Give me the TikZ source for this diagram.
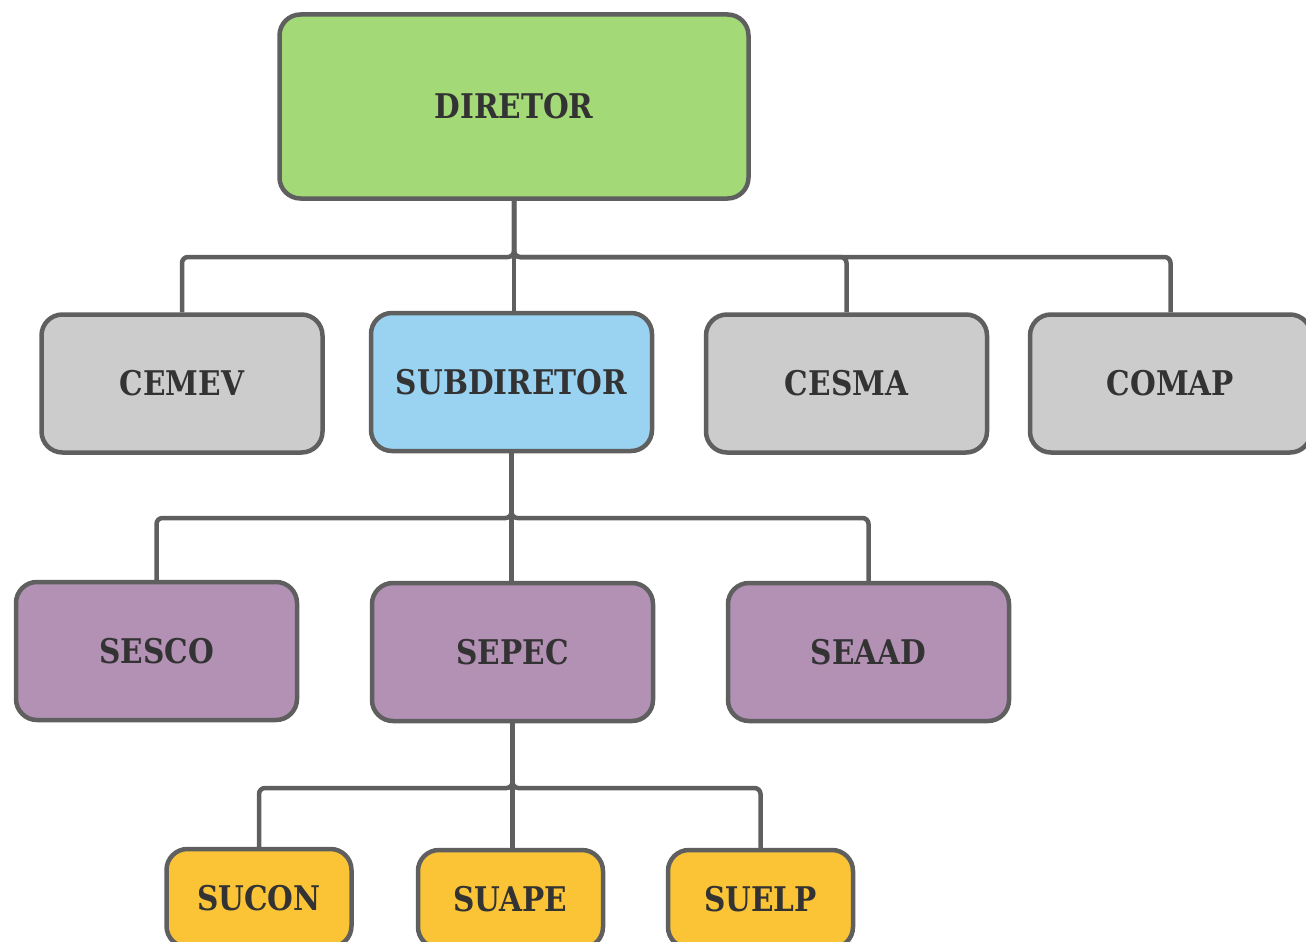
\documentclass[tikz,border=0pt]{standalone}
\usepackage{fontspec}
\setmainfont{DejaVu Serif}[FakeStretch=0.87]
\definecolor{edgegray}{HTML}{5F5F5F}
\definecolor{txtgray}{HTML}{333333}
\definecolor{cgreen}{HTML}{A3D977}
\definecolor{cblue}{HTML}{9AD2F2}
\definecolor{cgray}{HTML}{CCCCCC}
\definecolor{cpurple}{HTML}{B391B5}
\definecolor{cyellow}{HTML}{FBC437}
\begin{document}
\begin{tikzpicture}[x=1pt,y=-1pt,
  box/.style={draw=edgegray, line width=4.5pt, rounded corners=21pt, inner sep=0pt,
    font=\fontsize{34}{40}\selectfont\bfseries, text=txtgray, align=center},
  bigbox/.style={box, minimum width=281pt, minimum height=138pt},
  smallbox/.style={box, minimum width=185pt, minimum height=98pt},
  conn/.style={draw=edgegray, line width=4.5pt, rounded corners=6pt}]
\useasboundingbox (0,0) rectangle (1306,942);
\clip (0,0) rectangle (1306,942);
\node[box, fill=cgreen, minimum width=469pt, minimum height=184pt] (dir) at (514,106.5) {DIRETOR};
\node[bigbox, fill=cgray] (cemev) at (182,383.5) {CEMEV};
\node[bigbox, fill=cblue] (sub) at (511.5,382) {SUBDIRETOR};
\node[bigbox, fill=cgray] (cesma) at (846.5,383.5) {CESMA};
\node[bigbox, fill=cgray] (comap) at (1170.5,383.5) {COMAP};
\node[bigbox, fill=cpurple] (sesco) at (156.5,651) {SESCO};
\node[bigbox, fill=cpurple] (sepec) at (512.5,652) {SEPEC};
\node[bigbox, fill=cpurple] (seaad) at (868.5,652) {SEAAD};
\node[smallbox, fill=cyellow] (sucon) at (259,898) {SUCON};
\node[smallbox, fill=cyellow] (suape) at (510.5,899) {SUAPE};
\node[smallbox, fill=cyellow] (suelp) at (760.5,899) {SUELP};
\coordinate (b1) at (514,257);
\coordinate (b2) at (511,518);
\coordinate (b3) at (513,788);
\draw[conn] (dir.south) -- (dir.south |- b1) -| (cemev.north);
\draw[conn] (dir.south) -- (dir.south |- sub.north);
\draw[conn] (dir.south) -- (dir.south |- b1) -| (cesma.north);
\draw[conn] (dir.south) -- (dir.south |- b1) -| (comap.north);
\draw[conn] (sub.south) -- (sub.south |- b2) -| (sesco.north);
\draw[conn] (sub.south) -- (sub.south |- sepec.north);
\draw[conn] (sub.south) -- (sub.south |- b2) -| (seaad.north);
\draw[conn] (sepec.south) -- (sepec.south |- b3) -| (sucon.north);
\draw[conn] (sepec.south) -- (sepec.south |- suape.north);
\draw[conn] (sepec.south) -- (sepec.south |- b3) -| (suelp.north);
\end{tikzpicture}
\end{document}
